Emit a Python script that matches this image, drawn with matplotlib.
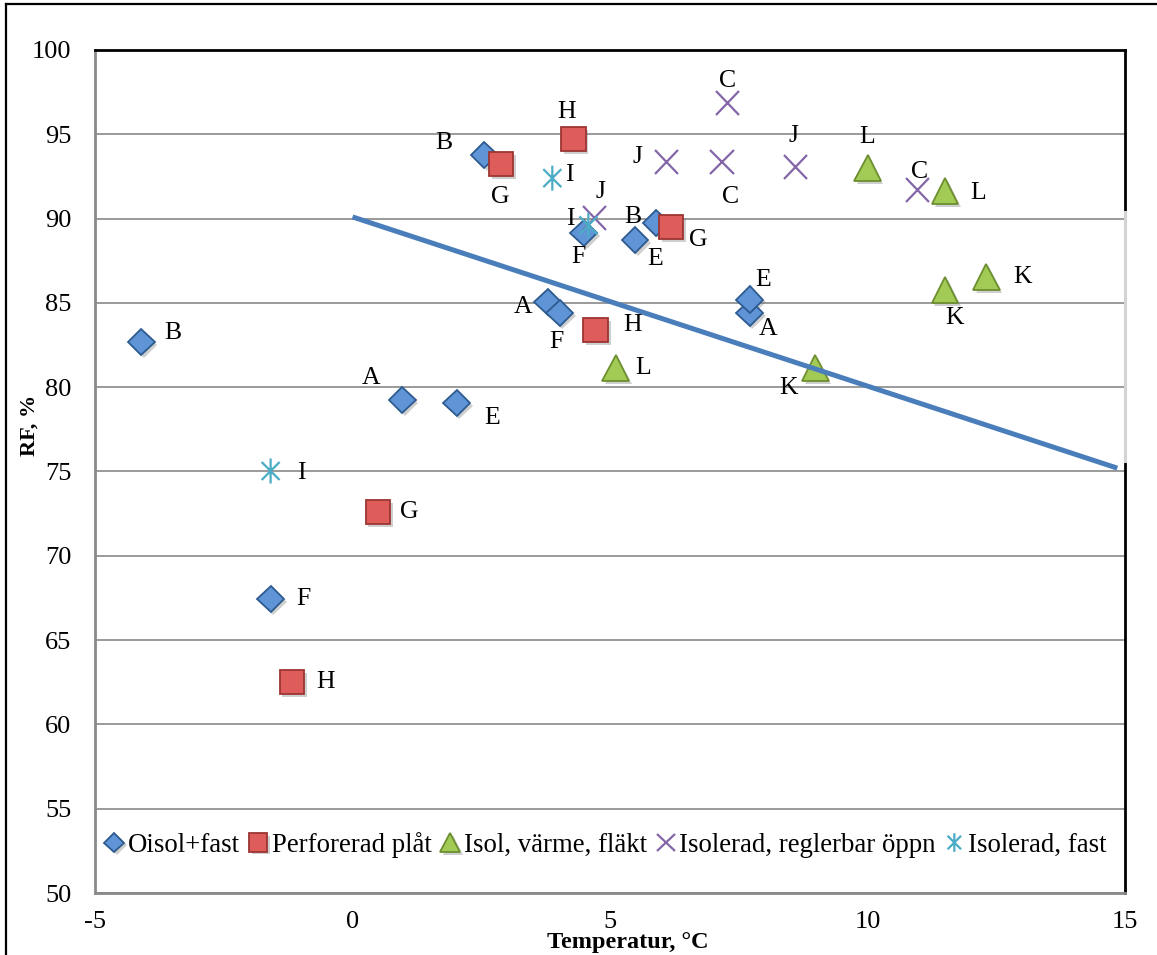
import numpy as np
import matplotlib
matplotlib.use("Agg")
import matplotlib.pyplot as plt
import matplotlib.patheffects as pe
from matplotlib.path import Path
from matplotlib.lines import Line2D

plt.rcParams['font.family'] = ['Liberation Serif', 'DejaVu Serif']
plt.rcParams['axes.unicode_minus'] = False

# Oisol+fast (blue diamonds)
oisol_x = [-4.10, 2.56, 5.90, 0.97, 3.79, 7.71, 2.02, 5.49, 7.71, -1.59, 4.49, 4.02]
oisol_y = [82.68, 93.77, 89.74, 79.24, 85.05, 84.40, 79.06, 88.73, 85.20, 67.44, 89.15, 84.40]
oisol_lbl = ['B', 'B', 'B', 'A', 'A', 'A', 'E', 'E', 'E', 'F', 'F', 'F']

# Perforerad plåt (red squares)
perf_x = [0.49, 2.89, 6.19, -1.18, 4.29, 4.72]
perf_y = [72.60, 93.24, 89.50, 62.50, 94.72, 83.39]
perf_lbl = ['G', 'G', 'G', 'H', 'H', 'H']

# Isol, värme, fläkt (green triangles)
isol_x = [10.00, 11.51, 5.11, 12.31, 11.50, 8.99]
isol_y = [93.00, 91.64, 81.14, 86.54, 85.77, 81.14]
isol_lbl = ['L', 'L', 'L', 'K', 'K', 'K']

# Isolerad, reglerbar öppn (purple x)
regl_x = [7.28, 7.18, 10.97, 6.10, 8.60, 4.70]
regl_y = [96.86, 93.36, 91.70, 93.36, 93.06, 90.04]
regl_lbl = ['C', 'C', 'C', 'J', 'J', 'J']

# Isolerad, fast (cyan asterisk)
fast_x = [3.88, 4.58, -1.59]
fast_y = [92.40, 89.60, 75.03]
fast_lbl = ['I', 'I', 'I']

# trend line
trend_x = [0.0, 14.85]
trend_y = [90.1, 75.2]

x_ticks = [-5, 0, 5, 10, 15]
y_ticks = [50, 55, 60, 65, 70, 75, 80, 85, 90, 95, 100]

# label offsets in pixels (dx right, dy down)
oisol_off = [(31, -9), (-40, -12), (-24, -6), (-31, -22), (-25, 5), (18, 16),
             (36, 15), (20, 19), (14, -20), (33, 0), (-5, 24), (-3, 29)]
perf_off = [(32, 0), (-1, 33), (27, 13), (34, 0), (-7, -27), (37, -5)]
isol_off = [(0, -31), (33, 2), (27, 0), (36, 0), (10, 28), (-27, 20)]
regl_off = [(0, -22), (8, 35), (2, -18), (-29, -5), (-2, -31), (6, -26)]
fast_off = [(17, -3), (-18, -6), (31, 2)]

star = Path([(0, -1), (0, 1), (-0.72, -0.72), (0.72, 0.72), (-0.72, 0.72), (0.72, -0.72)],
            [Path.MOVETO, Path.LINETO, Path.MOVETO, Path.LINETO, Path.MOVETO, Path.LINETO])

shadow = [pe.SimplePatchShadow(offset=(2, -2), shadow_rgbFace='#777777', alpha=0.35), pe.Normal()]

fig = plt.figure(figsize=(11.57, 9.55), dpi=100)
ax = fig.add_axes([95 / 1157, 1 - 893 / 955, 1030 / 1157, 843 / 955])

series = [
    (oisol_x, oisol_y, oisol_lbl, oisol_off, "Oisol+fast",
     dict(marker='D', ms=13.5, mfc='#5F95D6', mec='#2E5B8F', mew=1.3)),
    (perf_x, perf_y, perf_lbl, perf_off, "Perforerad plåt",
     dict(marker='s', ms=17.5, mfc='#DE5D5B', mec='#9B3634', mew=1.3)),
    (isol_x, isol_y, isol_lbl, isol_off, "Isol, värme, fläkt",
     dict(marker='^', ms=19, mfc='#A2CB55', mec='#6D8E30', mew=1.3)),
    (regl_x, regl_y, regl_lbl, regl_off, "Isolerad, reglerbar öppn",
     dict(marker='x', ms=17, mfc='none', mec='#8466A8', mew=1.6)),
    (fast_x, fast_y, fast_lbl, fast_off, "Isolerad, fast",
     dict(marker=star, ms=18, mfc='none', mec='#4BACC6', mew=1.6)),
]

handles = []
for i, (xs, ys, lbls, offs, name, st) in enumerate(series):
    h, = ax.plot(xs, ys, ls='none', label=name, zorder=3 + i, **st)
    h.set_path_effects(shadow)
    handles.append(h)
    for x, y, t, (dx, dy) in zip(xs, ys, lbls, offs):
        ax.annotate(t, (x, y), xytext=(dx, -dy), textcoords='offset pixels',
                    ha='center', va='center', fontsize=18.5, zorder=10)

ax.plot(trend_x, trend_y, color='#4A7EBB', lw=3.6, solid_capstyle='butt', zorder=9)

ax.set_xlim(-5, 15)
ax.set_ylim(50, 100)
ax.set_xticks(x_ticks)
ax.set_yticks(y_ticks)
ax.tick_params(axis='both', length=0, labelsize=19)
ax.tick_params(axis='y', pad=17)
ax.tick_params(axis='x', pad=13)
ax.grid(axis='y', color='#9a9a9a', lw=1.4)
ax.set_axisbelow(True)
for s in ['left', 'bottom']:
    ax.spines[s].set_color('#8a8a8a')
    ax.spines[s].set_linewidth(2)
for s in ['top', 'right']:
    ax.spines[s].set_color('black')
    ax.spines[s].set_linewidth(2)
# lighter piece of right border
ax.plot([15, 15], [75.6, 90.4], color='#d4d4d4', lw=2.2, clip_on=False, zorder=11)

leg = ax.legend(handles=handles, loc='center', bbox_to_anchor=(0.495, 0.057), ncol=5,
                frameon=False, fontsize=19.3, markerscale=0.75, handlelength=0.8,
                handletextpad=0.1, columnspacing=0.3, borderaxespad=0)

fig.text(628 / 1157, 1 - 942 / 955, "Temperatur, °C", ha='center', va='center',
         fontsize=17.5, fontweight='bold')
fig.text(30 / 1157, 1 - 425 / 955, "RF, %", ha='center', va='center', rotation=90,
         fontsize=16, fontweight='bold')

# outer chart frame (left and top edges visible)
fig.add_artist(Line2D([6 / 1157, 6 / 1157], [0, 1 - 4 / 955], color='black', lw=1.6))
fig.add_artist(Line2D([6 / 1157, 1], [1 - 4 / 955, 1 - 4 / 955], color='black', lw=1.6))

fig.savefig("out.png", dpi=100)
